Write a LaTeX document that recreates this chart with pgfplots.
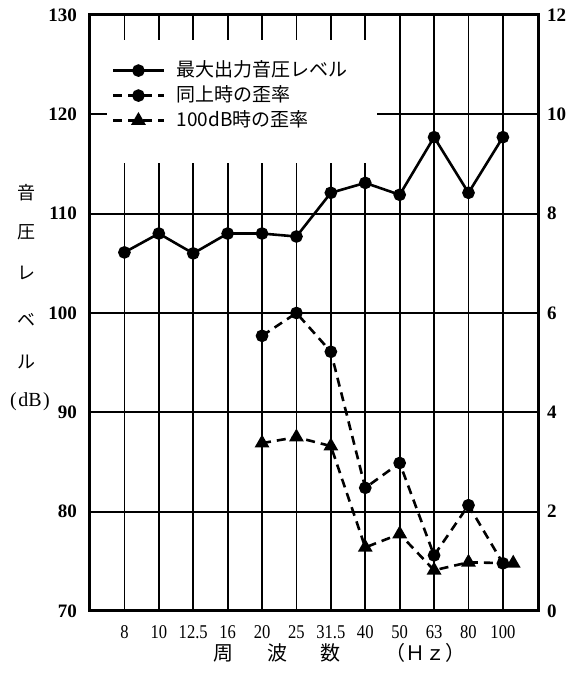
\documentclass[border=0pt]{standalone}
\usepackage{fontspec}
\setmainfont{Liberation Serif}
\newfontfamily\jp{Noto Sans CJK JP}
\newfontfamily\cond[FakeStretch=0.85]{Liberation Serif}
\usepackage{pgfplots}
\pgfplotsset{compat=1.18}
\begin{document}
\begin{tikzpicture}
\pgfplotsset{every axis/.append style={scale only axis, width=448pt, height=596pt, xmin=-1, xmax=12.02, clip=false,
  major tick length=0pt, /pgf/number format/assume math mode=true}}
\begin{axis}[
  ymin=70, ymax=130, ytick={70,80,...,130},
  xtick={0,...,11}, xticklabels={8,10,12.5,16,20,25,31.5,40,50,63,80,100},
  grid=major, grid style={black, line width=1.8pt},
  axis line style={line width=3pt},
  yticklabel style={font=\bfseries\fontsize{19}{19}\selectfont, inner sep=0pt, xshift=-13pt},
  xticklabel style={font=\cond\fontsize{19.5}{19.5}\selectfont, inner sep=0pt, yshift=-14pt},
]
\addplot[black, line width=2.6pt, mark=*, mark size=5pt] coordinates {
(0,106.1) (1,108.0) (2,106.0) (3,108.0) (4,108.0) (5,107.7) (6,112.1) (7,113.1) (8,111.9) (9,117.7) (10,112.1) (11,117.7)};
\end{axis}
\begin{axis}[
  ymin=0, ymax=12, ytick={0,2,...,12},
  axis y line*=right, axis x line=none,
  axis line style={draw=none},
  yticklabel style={font=\bfseries\fontsize{19}{19}\selectfont, inner sep=0pt, xshift=9pt},
  legend image code/.code={\draw[mark repeat=2, mark phase=2, #1] plot coordinates {(0pt,0pt) (25pt,0pt) (51pt,0pt)};},
  legend style={at={(axis description cs:0.049,0.923)}, anchor=north west, draw=none, fill=none, inner sep=0pt,
    row sep=6pt, /tikz/column sep=11pt, font=\jp\fontsize{19}{19}\selectfont,
    nodes={inner sep=0pt, text height=15pt, text depth=4pt}},
  legend cell align=left,
]
\fill[white] (axis description cs:0.038,0.752) rectangle (axis description cs:0.64,0.958);
\addlegendimage{black, line width=2.6pt, mark=*, mark size=5pt}
\addlegendentry{最大出力音圧レベル}
\addplot[black, line width=2.6pt, dash pattern=on 9pt off 6pt, mark=*, mark size=5pt, mark options={solid}] coordinates {
(4,5.54) (5,6.00) (6,5.22) (7,2.48) (8,2.98) (9,1.12) (10,2.13) (11,0.96)};
\addlegendentry{同上時の歪率}
\addplot[black, line width=2.6pt, dash pattern=on 9pt off 6pt, mark=triangle*, mark size=6pt, mark options={solid}] coordinates {
(4,3.38) (5,3.50) (6,3.32) (7,1.28) (8,1.55) (9,0.82) (10,0.98) (11.3,0.96)};
\addlegendentry{100dB時の歪率}
\end{axis}
\begin{scope}[every node/.style={font=\jp\fontsize{18}{18}\selectfont, inner sep=0pt}]
\node at (-63pt,418pt) {音};
\node at (-63pt,379pt) {圧};
\node at (-63pt,338pt) {レ};
\node at (-63pt,291pt) {ベ};
\node at (-63pt,249pt) {ル};
\node[font=\fontsize{20}{20}\selectfont] at (-60pt,209pt) {(\kern1.5pt dB\kern1.5pt)};
\end{scope}
\begin{scope}[every node/.style={font=\jp\fontsize{20}{20}\selectfont, inner sep=0pt}]
\node at (133pt,-42pt) {周};
\node at (187pt,-42pt) {波};
\node at (240pt,-42pt) {数};
\node at (335pt,-42pt) {（Ｈｚ）};
\end{scope}
\path[use as bounding box] (-90pt,-62pt) rectangle (475pt,611pt);
\end{tikzpicture}
\end{document}
